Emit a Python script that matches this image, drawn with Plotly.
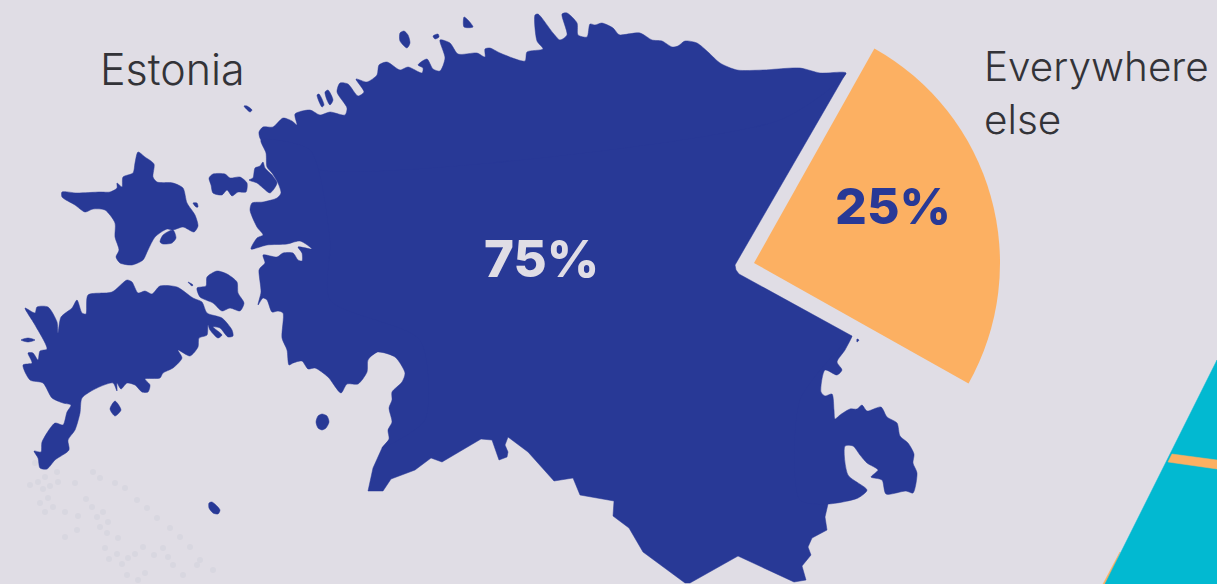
import plotly.graph_objects as go

labels = ["Everywhere else", "Estonia"]
shares = [25, 75]

# Map outlines (x, y)
north_coast = [(261,140),(259,132),(263,127),(273,127),(283,118),(292,121),(297,125),(295,114),(310,110),(320,115),(330,112),(345,115),(347,108),(337,92),(340,83),(348,84),(358,96),(364,92),(356,79),(367,82),(377,75),(379,65),(387,62),(400,70),(408,67),(422,73),(423,68),(418,65),(427,59),(433,69),(440,71),(445,58),(440,40),(450,43),(458,54),(477,53),(485,57),(485,49),(490,48),(500,53),(525,61),(527,52),(543,49),(537,41),(535,15),(538,14),(553,33),(560,40),(567,35),(562,14),(567,13),(577,23),(578,35),(587,37),(590,24),(595,25),(602,23),(613,28),(618,34),(620,35),(640,33),(652,40),(662,41),(672,47),(678,46),(685,41),(697,43),(708,52),(720,63),(737,70),(763,70),(800,68),(820,73),(846,73),(780,120),(320,170)]
west_coast = [(382,448),(389,439),(388,430),(392,422),(389,408),(392,400),(392,392),(402,382),(405,373),(395,357),(377,352),(368,360),(367,372),(358,384),(347,384),(341,393),(328,377),(315,368),(308,369),(302,361),(293,363),(289,365),(287,350),(282,338),(283,313),(278,311),(272,312),(267,300),(263,298),(258,305),(261,292),(259,270),(261,267),(265,263),(263,255),(277,257),(283,253),(293,253),(298,260),(302,261),(302,253),(298,247),(312,249),(300,241),(287,244),(267,245),(251,249),(257,238),(263,235),(257,227),(250,210),(252,203),(263,202),(277,198),(281,193),(278,183),(272,173),(267,167),(266,153),(261,140),(310,150),(330,240),(330,300),(420,340),(425,420)]
east_coast = [(852,336),(845,350),(837,362),(842,370),(837,375),(825,370),(821,392),(825,396),(832,394),(834,410),(835,419),(840,415),(850,409),(857,409),(862,405),(867,411),(881,407),(887,417),(897,423),(900,436),(908,443),(914,454),(913,463),(917,473),(913,493),(906,491),(886,494),(882,480),(871,477),(878,470),(867,463),(860,455),(853,446),(845,446),(848,475),(867,490),(858,498),(828,504),(800,500),(800,400)]
land_core = [(846,73),(735,265),(736,270),(739,274),(852,336),(815,380),(815,500),(828,504),(825,517),(827,530),(812,538),(808,547),(811,555),(802,566),(806,580),(794,582),(738,556),(690,583),(685,583),(643,552),(629,528),(613,516),(614,501),(580,495),(573,478),(554,481),(528,452),(508,437),(505,445),(508,452),(507,457),(499,460),(492,440),(481,439),(442,462),(431,458),(415,470),(391,479),(383,491),(368,491),(373,468),(382,448),(398,430),(415,375),(395,340),(350,370),(315,350),(300,300),(320,265),(320,240),(290,200),(300,135),(350,125),(370,100),(430,85),(530,70),(700,72),(820,78)]
hiiumaa = [(138,152),(145,157),(154,164),(153,177),(157,182),(173,183),(183,188),(187,203),(195,215),(198,226),(194,232),(183,227),(173,230),(167,229),(155,237),(148,250),(143,260),(132,265),(120,263),(116,257),(119,250),(115,237),(115,223),(105,210),(93,209),(85,212),(75,205),(62,197),(62,192),(77,193),(100,192),(110,192),(117,188),(117,183),(122,187),(123,177),(133,173),(135,163)]
saaremaa = [(25,308),(35,313),(37,307),(48,307),(57,322),(58,333),(61,317),(72,308),(77,300),(82,313),(86,314),(88,295),(112,292),(127,280),(132,282),(138,293),(145,291),(152,294),(160,286),(177,287),(193,298),(202,302),(207,313),(222,318),(232,330),(233,336),(228,337),(220,328),(213,327),(222,335),(218,338),(210,330),(208,325),(207,335),(199,338),(198,347),(190,356),(178,350),(182,358),(173,368),(163,373),(160,378),(145,379),(150,385),(148,392),(142,392),(135,385),(127,383),(121,389),(117,383),(117,391),(113,383),(97,388),(82,398),(80,413),(75,430),(68,440),(69,450),(55,460),(47,469),(40,468),(38,458),(34,451),(41,452),(42,442),(55,423),(63,425),(67,412),(71,405),(63,403),(52,398),(43,383),(30,380),(23,365),(32,363),(28,353),(33,353),(38,360),(40,351),(47,349),(35,325)]
muhu = [(207,277),(217,271),(227,274),(237,282),(238,293),(244,303),(240,311),(230,308),(222,311),(213,303),(200,297),(197,288),(206,286)]
vormsi = [(209,178),(213,174),(225,174),(230,178),(240,177),(247,183),(246,192),(238,192),(232,196),(227,190),(222,195),(213,193),(211,185)]
noarootsi = [(249,180),(253,178),(255,168),(260,166),(263,162),(265,168),(272,175),(277,183),(270,193),(263,188),(257,183)]
islets = [
    [(160,242),(163,235),(173,230),(176,238),(172,243),(163,244)],
    [(193,203),(197,203),(198,207),(196,207)],
    [(21,340),(28,338),(35,340),(28,342)],
    [(110,409),(115,401),(121,410),(115,416)],
    [(322,414),(327,416),(329,422),(326,428),(322,430),(318,428),(316,422),(318,416)],
    [(209,503),(212,502),(220,510),(218,514),(213,513),(209,508)],
    [(244,106),(247,106),(252,110),(250,112)],
    [(317,95),(319,94),(324,105),(322,107)],
    [(325,92),(328,90),(333,100),(330,105),(327,100)],
    [(400,33),(404,31),(408,35),(410,43),(407,48),(400,41)],
    [(433,36),(438,34),(439,37),(435,39)],
    [(464,17),(467,19),(473,27),(464,27)],
    [(857,339),(859,340),(857,342)],
    [(188,282),(193,285),(192,286)],
]
texture = [(30,485),(38,482),(43,489),(50,486),(58,482),(75,483),(48,498),(40,503),(53,507),(45,512),(65,512),(78,516),(86,499),(92,507),(103,512),(97,517),(108,522),(100,527),(107,533),(118,538),(77,530),(65,537),(105,548),(117,554),(128,558),(135,554),(109,559),(122,564),(127,575),(138,580),(145,573),(154,555),(163,548),(143,547),(168,557),(93,472),(100,478),(115,483),(125,488),(137,500),(147,508),(157,518),(170,528),(180,537),(190,547),(200,560),(213,570),(183,575),(197,565),(173,565),(35,463),(57,472),(45,477)]
teal_area = [(1217,360),(1105,584),(1217,584)]
orange_edge = [(1120,552),(1103,584),(1107,584)]
orange_band = [(1172,454),(1217,460),(1217,469),(1168,462)]

W, H = 1217, 584
NAVY, ORANGE, BG, TEAL = "#283996", "#fcb062", "#e0dde5", "#02b9d1"
TEXT = "#333338"

fig = go.Figure()

def poly(pts, color, shape="linear"):
    fig.add_trace(go.Scatter(
        x=[p[0] for p in pts] + [pts[0][0]], y=[p[1] for p in pts] + [pts[0][1]],
        mode="lines", fill="toself", fillcolor=color,
        line=dict(color=color, width=0.5, shape=shape, smoothing=0.7),
        hoverinfo="skip", showlegend=False))

fig.add_trace(go.Scatter(x=[p[0] for p in texture], y=[p[1] for p in texture], mode="markers",
                         marker=dict(size=6, color="#d8d7e0", line_width=0),
                         hoverinfo="skip", showlegend=False))
poly(orange_edge, ORANGE)
poly(teal_area, TEAL)
poly(orange_band, ORANGE)
poly(land_core, NAVY)
for coast in [north_coast, west_coast, east_coast]:
    poly(coast, NAVY, "spline")
for isl in [hiiumaa, saaremaa, muhu, vormsi, noarootsi] + islets:
    poly(isl, NAVY, "spline")

# Pie: only the "everywhere else" slice is visible
cx, cy, r = 754, 263, 246
fig.add_trace(go.Pie(
    labels=labels, values=shares, sort=False, direction="clockwise", rotation=29.3,
    marker=dict(colors=[ORANGE, "rgba(0,0,0,0)"], line_width=0),
    textinfo="none", hoverinfo="skip", showlegend=False,
    domain=dict(x=[(cx - r) / W, (cx + r) / W], y=[(H - cy - r) / H, (H - cy + r) / H])))

def note(x, y, text, size, color, weight=300, anchor="left"):
    fig.add_annotation(x=x, y=y, xref="x", yref="y", text=text, showarrow=False, xanchor=anchor, align="left",
                       yanchor="middle", font=dict(family="Inter", size=size, color=color, weight=weight))

note(172, 69, labels[1], 43, TEXT, anchor="center")
note(982, 93, "Everywhere<br>else", 40.5, TEXT)
note(541, 258, f"{shares[1]}%", 51, BG, 800, "center")
note(893, 206, f"{shares[0]}%", 50, NAVY, 800, "center")

fig.update_layout(
    width=W, height=H, margin=dict(l=0, r=0, t=0, b=0), autosize=False,
    paper_bgcolor=BG, plot_bgcolor=BG,
    xaxis=dict(range=[0, W], visible=False, fixedrange=True),
    yaxis=dict(range=[H, 0], visible=False, fixedrange=True))
fig.write_html("out.html", config=dict(displayModeBar=False),
               post_script="document.body.style.margin='0';document.body.style.background='#e0dde5';document.body.style.overflow='hidden';")
